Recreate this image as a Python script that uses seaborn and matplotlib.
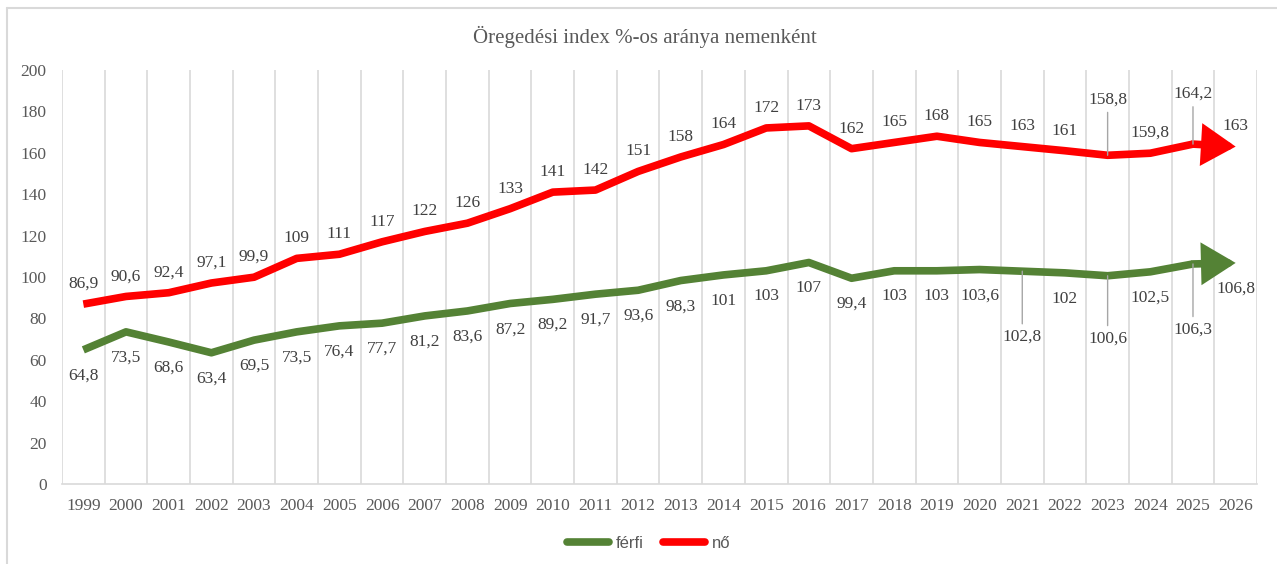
import matplotlib.pyplot as plt
import matplotlib.lines as mlines
import pandas as pd
import seaborn as sns

years = list(range(1999, 2027))
ferfi = [64.8, 73.5, 68.6, 63.4, 69.5, 73.5, 76.4, 77.7, 81.2, 83.6, 87.2, 89.2, 91.7, 93.6,
         98.3, 101, 103, 107, 99.4, 103, 103, 103.6, 102.8, 102, 100.6, 102.5, 106.3, 106.8]
no = [86.9, 90.6, 92.4, 97.1, 99.9, 109, 111, 117, 122, 126, 133, 141, 142, 151,
      158, 164, 172, 173, 162, 165, 168, 165, 163, 161, 158.8, 159.8, 164.2, 163]
ferfi_labels = ["64,8", "73,5", "68,6", "63,4", "69,5", "73,5", "76,4", "77,7", "81,2", "83,6",
                "87,2", "89,2", "91,7", "93,6", "98,3", "101", "103", "107", "99,4", "103",
                "103", "103,6", "102,8", "102", "100,6", "102,5", "106,3", "106,8"]
no_labels = ["86,9", "90,6", "92,4", "97,1", "99,9", "109", "111", "117", "122", "126", "133",
             "141", "142", "151", "158", "164", "172", "173", "162", "165", "168", "165",
             "163", "161", "158,8", "159,8", "164,2", "163"]

GREEN = "#548235"
RED = "#ff0000"
LABEL_COLOR = "#404040"
AXIS_COLOR = "#595959"
GRID_COLOR = "#d9d9d9"

sns.set_theme(style="white")
plt.rcParams["font.family"] = ["Liberation Serif", "DejaVu Serif"]

df = pd.DataFrame(
    {
        "year": years[:-1] * 2,
        "value": ferfi[:-1] + no[:-1],
        "nem": ["férfi"] * (len(years) - 1) + ["nő"] * (len(years) - 1),
    }
)

fig = plt.figure(figsize=(12.77, 5.64), dpi=100)
ax = fig.add_axes([62 / 1277, 80 / 564, (1257 - 62) / 1277, 414 / 564])

sns.lineplot(
    data=df, x="year", y="value", hue="nem", palette={"férfi": GREEN, "nő": RED},
    linewidth=5.5, ax=ax, legend=False, solid_joinstyle="round", solid_capstyle="butt",
)

# arrow heads for the last (forecast) segment
for vals, color in [(ferfi, GREEN), (no, RED)]:
    ax.annotate(
        "", xy=(years[-1], vals[-1]), xytext=(years[-2], vals[-2]),
        arrowprops=dict(arrowstyle="-|>,head_length=17,head_width=10.5", mutation_scale=1,
                        color=color, lw=5.5, shrinkA=0, shrinkB=0, joinstyle="miter"),
    )

# data labels, a few pulled away with leader lines
far_no = {2023: 40, 2025: 36}
far_ferfi = {2021: -47, 2023: -45, 2025: -47}
for vals, labels, default_off, far in [(no, no_labels, 14.5, far_no),
                                      (ferfi, ferfi_labels, -18.5, far_ferfi)]:
    for yr, v, lab in zip(years, vals, labels):
        off = far.get(yr, default_off)
        props = None
        if yr in far:
            props = dict(arrowstyle="-", color="#a6a6a6", lw=1, shrinkA=1, shrinkB=0)
        ax.annotate(lab, xy=(yr, v), xytext=(0, off), textcoords="offset points",
                    ha="center", va="center", fontsize=12.5, color=LABEL_COLOR,
                    arrowprops=props)

ax.set_xlim(years[0] - 0.5, years[-1] + 0.5)
ax.set_ylim(0, 200)
ax.set_yticks(range(0, 201, 20))
ax.set_xticks(years)
ax.set_xticks([y - 0.5 for y in years] + [years[-1] + 0.5], minor=True)
ax.grid(False)
ax.grid(True, axis="x", which="minor", color=GRID_COLOR, lw=1.2)
ax.tick_params(axis="both", which="both", length=0, labelsize=12.5, labelcolor=AXIS_COLOR)
ax.tick_params(axis="x", pad=10)
ax.tick_params(axis="y", pad=11)
ax.set_xlabel("")
ax.set_ylabel("")
for side in ["top", "left", "right"]:
    ax.spines[side].set_visible(False)
ax.spines["bottom"].set_color(GRID_COLOR)
ax.spines["bottom"].set_linewidth(1.2)

fig.text(0.505, 1 - 37 / 564, "Öregedési index %-os aránya nemenként", ha="center",
         va="center", fontsize=15, color=AXIS_COLOR)

handles = [mlines.Line2D([], [], color=GREEN, lw=5.5, solid_capstyle="round"),
           mlines.Line2D([], [], color=RED, lw=5.5, solid_capstyle="round")]
fig.legend(handles, ["férfi", "nő"], loc="center", bbox_to_anchor=(0.508, 1 - 543 / 564),
           ncol=2, frameon=False, handlelength=2.5, handletextpad=0.4, columnspacing=1.2,
           prop={"family": ["Liberation Sans", "DejaVu Sans"], "size": 12},
           labelcolor=AXIS_COLOR)

# outer chart border (cut off at right and bottom)
fig.add_artist(mlines.Line2D([7 / 1277, 7 / 1277], [0, 1 - 8 / 564], color=GRID_COLOR,
                             lw=1.5, transform=fig.transFigure))
fig.add_artist(mlines.Line2D([7 / 1277, 1], [1 - 8 / 564, 1 - 8 / 564], color=GRID_COLOR,
                             lw=1.5, transform=fig.transFigure))

fig.savefig("out.png", dpi=100)
